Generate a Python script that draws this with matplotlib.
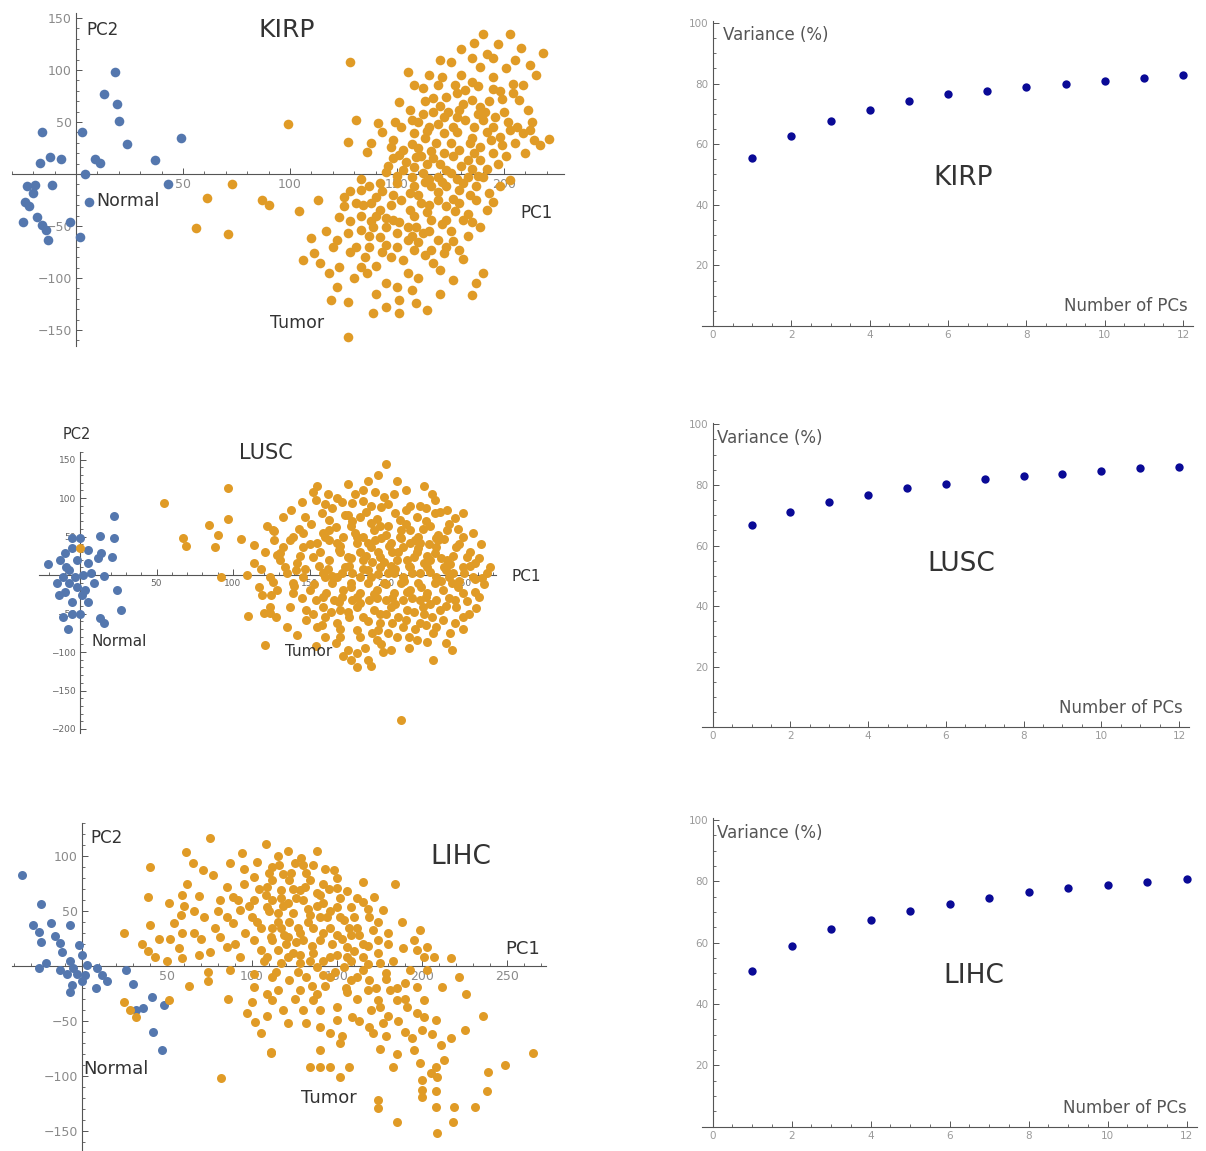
import matplotlib
matplotlib.use("Agg")
import matplotlib.pyplot as plt
from matplotlib.ticker import MultipleLocator, FixedLocator

W, H = 1206, 1151

# ---------------- DATA ----------------
kirp_normal_pc1 = [-16, -17, -12, -7, -11, -23, -19, -20, -24, -22, -25, -18, -16, -14, -13, -3, 2, 3, 4, 6, 9, 11, 13, 18, 19, 20, 24, 37, 43, 49]
kirp_normal_pc2 = [40, 11, 16, 14, -11, -12, -11, -18, -27, -31, -46, -41, -49, -54, -63, -46, -61, 40, 0, -27, 14, 11, 77, 98, 67, 51, 29, 13, -10, 35]

kirp_tumor = [
    (99, 48), (73, -10), (61, -23), (56, -52), (71, -58), (87, -25), (90, -30),
    (128, 108), (131, 52), (141, 49), (127, 31), (136, 21), (190, 135), (203, 135), (186, 126), (208, 121), (218, 116),
    (155, 98), (158, 86), (162, 83), (167, 73), (169, 86), (173, 74), (177, 86), (151, 69), (167, 60), (189, 103),
    (195, 93), (201, 102), (204, 87), (209, 86), (207, 71), (211, 62), (182, 81), (185, 71), (189, 64), (179, 62),
    (182, 52), (190, 52), (195, 45), (198, 36), (203, 42), (209, 39), (221, 34), (214, 33), (176, 45), (172, 39),
    (164, 41), (158, 39), (148, 33), (147, 26), (153, 23), (157, 29), (161, 17), (168, 30), (175, 30), (179, 23),
    (184, 30), (189, 26), (194, 33), (195, 20), (201, 17), (189, 13), (183, 13), (176, 17), (170, 10), (164, 10),
    (158, 7), (153, 4), (162, 1), (169, -3), (175, 1), (183, -3), (190, -3), (203, -6), (187, -12), (179, -15),
    (173, -12), (166, -12), (158, -12), (150, -9), (142, -9), (137, -12), (133, -15), (140, -22), (131, -28),
    (125, -22), (125, -31), (113, -25), (104, -36), (123, -41), (133, -40), (142, -35), (148, -44), (156, -35),
    (161, -28), (169, -25), (173, -31), (179, -28), (183, -38), (187, -25), (195, -27), (189, -51), (181, -44),
    (173, -44), (166, -44), (159, -51), (155, -51), (145, -51), (139, -51), (133, -54), (127, -57), (122, -63),
    (142, -61), (150, -57), (155, -63), (162, -57), (169, -63), (173, -70), (179, -73), (166, -73), (158, -73),
    (147, -80), (153, -83), (167, -86), (172, -76), (137, -70), (131, -70), (120, -70), (111, -76), (114, -86),
    (106, -83), (123, -89), (133, -89), (136, -95), (145, -105), (150, -109), (151, -121), (159, -124), (164, -131),
    (151, -134), (139, -134), (127, -123), (122, -109), (119, -121), (127, -157), (190, -95), (187, -105),
    (185, -116), (176, -102),
    (160, 50), (165, 45), (172, 55), (178, 40), (185, 35), (192, 40), (199, 28), (205, 30), (210, 20), (186, 20),
    (180, 8), (172, 20), (166, 22), (160, 25), (154, 12), (148, 15), (145, 2), (150, -2), (157, -3), (165, -5),
    (171, -8), (178, -5), (185, 5), (192, 5), (197, 10), (160, -20), (165, -30), (152, -25), (147, -30), (140, -40),
    (134, -30), (128, -45), (137, -60), (145, -68), (160, -65), (165, -55), (175, -55), (183, -60), (178, 55),
    (188, 58), (193, 70), (198, 80), (180, 95), (165, 95), (175, 108), (192, 115), (200, 60), (213, 50), (170, 65),
    (162, 58),
    (152, 45), (157, 52), (163, 35), (169, 48), (174, 60), (181, 67), (186, 45), (191, 60), (196, 55), (202, 50),
    (206, 45), (212, 42), (217, 28), (199, 72), (204, 78), (185, 88), (178, 78), (171, 93), (163, 70), (156, 62),
    (149, 50), (143, 40), (138, 30), (146, 8), (151, 18), (159, 16), (167, 15), (173, 4), (181, -9), (188, -2),
    (193, -18), (198, -12), (184, -20), (176, -24), (169, -17), (163, -8), (156, -18), (148, -20), (143, -16),
    (138, -28), (145, -42), (151, -46), (158, -40), (164, -37), (171, -48), (177, -36), (185, -46), (192, -35),
    (176, -64), (163, -78), (157, -60), (150, -70), (143, -75), (135, -80), (128, -75), (140, -88), (155, -95),
    (160, -100), (170, -92), (181, -82), (130, -100), (140, -115), (145, -128), (157, -112), (170, -115), (118, -95),
    (110, -62), (117, -55), (128, -16), (133, -5), (138, -45), (195, 112), (185, 112), (170, 110), (215, 95),
    (212, 105), (197, 125), (205, 110), (180, 120), (188, 85), (195, 82),
]
kirp_tumor_pc1 = [p[0] for p in kirp_tumor]
kirp_tumor_pc2 = [p[1] for p in kirp_tumor]

lusc_normal_pc1 = [-21, 22, 13, 22, 21, 14, 12, 16, 24, 27, 13, 16, -8, -11, 0, -5, 1, -14, -15, -11, -7, -13, -10, -5, 0, -5, 5, 5, 7, 9, 3, -2, -7, -9, -2, 2, -3, -10, 5, -5]
lusc_normal_pc2 = [14, 77, 51, 48, 23, 28, 22, -1, -19, -45, -56, -62, -70, -55, -50, -35, -26, -26, -10, -2, 6, 19, 28, 35, 48, 48, 32, 16, 3, -10, -19, -15, -10, 11, 19, 0, -2, -22, -35, -50]

lusc_tumor = [
    (0, 35), (55, 93), (97, 113), (97, 73), (84, 65), (90, 52), (105, 47), (67, 48), (69, 38), (88, 36), (114, 39),
    (114, 15), (109, 0), (92, -2), (122, 63), (127, 57), (119, -26), (125, -26), (120, -49), (124, -49), (110, -53),
    (121, -91), (129, 26), (126, -9),
    (200, 144), (207, 122), (188, 122), (185, 110), (152, 108), (145, 95), (154, 97), (165, 87), (171, 95), (178, 93),
    (199, 101), (197, 88), (232, 97), (226, 87), (235, 82), (245, 74), (147, 75), (163, 71), (183, 75), (209, 71),
    (220, 75), (126, 58), (139, 49), (159, 55), (177, 63), (192, 58), (201, 63), (216, 58), (229, 63), (240, 58),
    (250, 49), (133, 36), (146, 36), (155, 42), (168, 42), (181, 42), (190, 36), (203, 42), (211, 36), (222, 42),
    (233, 36), (246, 36), (253, 23), (261, 22), (268, 10), (131, 19), (142, 16), (152, 23), (163, 19), (175, 23),
    (185, 19), (196, 23), (207, 19), (218, 23), (229, 19), (240, 19), (124, -3), (135, 3), (146, -3), (159, 3),
    (168, -3), (178, 3), (190, -3), (201, 3), (211, -3), (222, 3), (233, -3), (244, 3), (257, -3), (263, -4),
    (129, -19), (139, -24), (150, -19), (161, -24), (172, -19), (183, -24), (194, -19), (205, -24), (216, -19),
    (227, -24), (237, -19), (250, -24), (258, -22), (259, -43), (137, -42), (148, -45), (159, -42), (170, -45),
    (181, -42), (192, -45), (203, -42), (214, -45), (224, -42), (235, -45), (246, -42), (148, -58), (155, -67),
    (168, -62), (181, -71), (196, -62), (201, -75), (211, -67), (222, -62), (233, -67), (250, -70), (242, -75),
    (194, -84), (203, -97), (220, -84), (227, -87), (243, -97), (231, -110), (175, -97), (181, -101), (177, -110),
    (188, -110), (181, -119), (210, -188), (146, 55), (131, 29), (124, -42),
    (157, 30), (170, 30), (183, 30), (195, 30), (208, 30), (220, 30), (232, 28), (162, 8), (173, 10), (185, 8),
    (196, 10), (206, 8), (216, 10), (227, 10), (238, 10), (250, 10), (165, -10), (177, -10), (188, -10), (199, -10),
    (210, -10), (221, -10), (232, -10), (243, -10), (154, -32), (166, -32), (178, -32), (189, -32), (200, -32),
    (211, -32), (222, -32), (233, -32), (245, -32), (160, 50), (172, 50), (185, 50), (197, 48), (209, 50),
    (221, 50), (233, 48), (190, 68), (213, 85), (175, 78), (160, -55), (185, -55), (208, -55), (230, -55),
    (141, 6), (139, -10), (255, 12), (248, -8), (222, 90), (190, 90), (215, -80), (170, -80),
    (143, 60), (151, 66), (158, 80), (167, 62), (173, 78), (180, 55), (187, 82), (194, 73), (200, 52), (206, 80),
    (213, 66), (219, 45), (226, 70), (234, 52), (241, 66), (248, 40), (255, 30), (137, 45), (144, 25), (150, 40),
    (156, 12), (163, 45), (169, 33), (176, 12), (181, 50), (187, 25), (193, 45), (199, 17), (204, 30), (210, 48),
    (215, 12), (221, 35), (227, 25), (234, 45), (239, 6), (244, 25), (251, 3), (258, 15), (264, -12), (266, 2),
    (134, 10), (140, -14), (147, 8), (153, -12), (159, -28), (165, -1), (171, -28), (177, -15), (183, -36), (188, 6),
    (194, -30), (200, -12), (206, -38), (212, -8), (217, -30), (223, -15), (229, -38), (236, -8), (241, -30),
    (247, -16), (253, -34), (261, -28), (254, -50), (145, -30), (152, -50), (158, -65), (164, -48), (170, -70),
    (176, -55), (183, -80), (188, -60), (195, -72), (200, -50), (207, -80), (213, -58), (219, -70), (225, -50),
    (231, -75), (237, -58), (245, -62), (239, -88), (215, -95), (197, -90), (186, -95), (167, -88), (160, -80),
    (154, -92), (213, 110), (205, 105), (193, 108), (180, 105), (175, 118), (168, 100), (160, 92), (230, 105),
    (240, 85), (250, 80), (257, 55), (262, 40), (138, 85), (133, 75), (127, 45), (121, 30), (118, 8), (117, -15),
    (128, -55), (135, -68), (142, -78), (155, 115), (162, 105), (195, 130), (225, 115), (198, -100), (190, -118),
    (172, -105), (250, -55), (258, -5), (247, 60), (232, 80), (216, 90), (201, 92), (185, 96),
    (163, 58), (178, 70), (196, 64), (210, 58), (224, 60), (238, 47), (170, 38), (188, 42), (202, 38), (216, 42),
    (228, 40), (242, 14), (177, 22), (191, 17), (203, 12), (214, 20), (225, 16), (236, 22), (160, -3), (171, 3),
    (183, -2), (195, 1), (205, 2), (217, 2), (229, 4), (241, -2), (169, -35), (181, -28), (192, -25), (204, -30),
    (214, -22), (226, -28), (239, -40), (175, -48), (196, -50), (218, -48), (191, -75), (226, -65), (204, -62),
]
lusc_tumor_pc1 = [p[0] for p in lusc_tumor]
lusc_tumor_pc2 = [p[1] for p in lusc_tumor]

lihc_normal_pc1 = [-35, -24, -29, -18, -7, -25, -24, -16, -13, -12, -2, 0, -7, -21, -25, -13, -5, 3, 9, 12, 15, 8, 0, -6, -9, -7, -3, 2, 26, 30, 41, 36, 32, 48, 42, 47]
lihc_normal_pc2 = [83, 56, 37, 39, 37, 31, 22, 27, 21, 13, 19, 10, 5, 3, -2, -4, -2, 1, -2, -8, -14, -20, -14, -17, -7, -24, -7, -8, -4, -16, -28, -38, -40, -35, -60, -76]

lihc_tumor = [
    (75, 116), (108, 111), (61, 104), (87, 94), (40, 90), (65, 94), (94, 103), (71, 87), (77, 83), (62, 75), (59, 65),
    (69, 64), (39, 63), (51, 57), (58, 46), (72, 45), (40, 37), (25, 30), (54, 39), (59, 30), (39, 14), (43, 8),
    (50, 5), (57, 16), (59, 7), (69, 10), (75, 13), (74, -5), (74, -14), (63, -18), (81, 26), (89, 39), (85, 17),
    (93, 8), (86, -30), (25, -33), (28, -40), (32, -46), (51, -31), (97, -43), (100, -33), (102, -51), (105, -61),
    (111, -79), (82, -102), (101, -19), (101, -7), (109, -25), (101, 24), (105, 35), (93, 51), (101, 60), (109, 72),
    (112, 90), (101, 81), (89, 63), (81, 60), (95, 75), (109, 54), (112, 24), (87, -4), (109, 8),
    (121, 105), (138, 105), (125, 94), (130, 92), (148, 87), (118, 84), (112, 78), (122, 78), (134, 78), (142, 75),
    (165, 76), (184, 75), (150, 71), (117, 69), (128, 69), (138, 66), (172, 63), (112, 60), (121, 57), (130, 60),
    (142, 57), (150, 54), (158, 54), (169, 45), (177, 51), (115, 48), (124, 48), (134, 46), (144, 45), (154, 42),
    (117, 35), (127, 35), (136, 35), (146, 35), (162, 35), (171, 33), (111, 26), (121, 26), (130, 24), (140, 24),
    (156, 17), (174, 24), (199, 33), (195, 24), (189, 16), (197, 15), (203, 17), (201, 8), (207, 8), (217, 7),
    (115, 15), (124, 12), (136, 12), (146, 8), (174, 12), (183, 5), (117, 3), (128, 3), (138, -1), (154, -1),
    (165, -4), (175, 3), (179, -6), (193, -4), (203, -4), (112, -10), (122, -13), (132, -10), (146, -10),
    (158, -13), (169, -13), (222, -10), (212, -19), (115, -22), (128, -22), (138, -25), (156, -24), (168, -22),
    (181, -22), (197, -19), (226, -25), (112, -31), (136, -31), (150, -37), (174, -31), (185, -31), (191, -37),
    (201, -31), (140, -40), (159, -46), (175, -37), (197, -43), (121, -52), (132, -52), (140, -55), (150, -49),
    (169, -55), (177, -52), (201, -46), (208, -49), (236, -45), (146, -61), (153, -64), (171, -61), (179, -64),
    (200, -58), (225, -58), (217, -65), (111, -78), (140, -76), (152, -70), (194, -65), (211, -72), (195, -76),
    (265, -79), (134, -92), (140, -92), (146, -92), (157, -92), (152, -101), (183, -92), (199, -88), (208, -92),
    (205, -97), (200, -104), (200, -113), (200, -119), (208, -114), (209, -101), (239, -96), (249, -90),
    (238, -114), (231, -128), (219, -128), (208, -128), (218, -142), (209, -152), (185, -142), (174, -129),
    (174, -122),
    (100, 45), (96, 30), (105, 15), (118, 55), (126, 62), (133, 52), (140, 65), (146, 50), (152, 62), (160, 45),
    (165, 58), (108, 65), (115, 40), (122, 40), (128, 30), (135, 18), (142, 30), (150, 28), (158, 28), (165, 20),
    (120, 20), (128, 10), (142, 5), (150, 10), (158, 5), (165, 8), (188, 40), (180, 20), (155, -20), (162, -30),
    (130, -40), (186, -50), (190, -15), (95, 88), (103, 95), (132, 85), (115, 100), (85, 72), (80, 50), (66, 30),
    (98, 55), (104, 70), (110, 85), (116, 92), (123, 85), (129, 98), (136, 92), (143, 88), (150, 80), (156, 68),
    (162, 62), (168, 52), (174, 40), (180, 30), (103, 40), (110, 50), (117, 62), (124, 70), (131, 72), (138, 55),
    (145, 70), (152, 45), (157, 35), (163, 28), (168, 18), (112, 35), (119, 28), (126, 22), (133, 40), (140, 45),
    (147, 20), (153, 25), (160, 14), (107, 5), (114, -5), (121, 8), (127, -5), (134, 5), (142, -8), (149, -5),
    (156, 8), (162, -10), (168, 2), (173, -20), (179, -12), (185, -20), (190, -30), (180, -45), (170, -40),
    (163, -50), (143, -18), (135, -18), (125, -30), (118, -40), (109, -45), (90, 20), (92, 60), (85, 45), (78, 35),
    (70, 25), (66, 50), (60, 55), (52, 25), (45, 25), (35, 20), (190, -60), (206, -62), (213, -85), (185, -80),
    (175, -75),
]
lihc_tumor_pc1 = [p[0] for p in lihc_tumor]
lihc_tumor_pc2 = [p[1] for p in lihc_tumor]

n_pcs = [1, 2, 3, 4, 5, 6, 7, 8, 9, 10, 11, 12]
kirp_variance = [55.4, 62.8, 67.7, 71.4, 74.2, 76.5, 77.5, 78.9, 80.0, 80.8, 81.7, 82.7]
lusc_variance = [66.9, 71.1, 74.4, 76.7, 79.1, 80.4, 81.8, 82.8, 83.7, 84.7, 85.6, 86.0]
lihc_variance = [50.9, 59.0, 64.6, 67.5, 70.3, 72.5, 74.5, 76.4, 77.8, 78.8, 79.8, 80.7]

# ---------------- STYLE ----------------
BLUE = "#5477ae"
ORANGE = "#e09b26"
DARKBLUE = "#0a0a96"
AXCOL = "#555555"
TICKCOL = "#8a8a8a"
TXT = "#333333"

plt.rcParams['font.family'] = ['DejaVu Sans']
fig = plt.figure(figsize=(W / 100, H / 100), dpi=100)
fig.patch.set_facecolor("white")


def place(ax, x0px, sx, y0px, sy, xlim, ylim):
    left = x0px + xlim[0] * sx
    right = x0px + xlim[1] * sx
    top = y0px - ylim[1] * sy
    bottom = y0px - ylim[0] * sy
    ax.set_position([left / W, 1 - bottom / H, (right - left) / W, (bottom - top) / H])
    ax.set_xlim(*xlim)
    ax.set_ylim(*ylim)


def style_axes(ax, xmaj, ymaj, xmin, ymin, lsize, lcol=TICKCOL):
    for s in ("top", "right"):
        ax.spines[s].set_visible(False)
    for s in ("left", "bottom"):
        ax.spines[s].set_position(("data", 0))
        ax.spines[s].set_color(AXCOL)
        ax.spines[s].set_linewidth(0.8)
    ax.xaxis.set_major_locator(FixedLocator(xmaj))
    ax.yaxis.set_major_locator(FixedLocator(ymaj))
    ax.xaxis.set_minor_locator(MultipleLocator(xmin))
    ax.yaxis.set_minor_locator(MultipleLocator(ymin))
    ax.tick_params(which="major", direction="in", length=4, width=0.7, color=AXCOL,
                   labelsize=lsize, labelcolor=lcol, pad=3)
    ax.tick_params(which="minor", direction="in", length=2.2, width=0.6, color=AXCOL)
    ax.set_facecolor("none")


def scatter_panel(x0px, sx, y0px, sy, xlim, ylim, npc1, npc2, tpc1, tpc2, size,
                  xmaj, ymaj, lsize, texts, lcol=TICKCOL):
    ax = fig.add_axes([0, 0, 1, 1])
    place(ax, x0px, sx, y0px, sy, xlim, ylim)
    ax.scatter(npc1, npc2, s=size, color=BLUE, linewidths=0, zorder=3, clip_on=False)
    ax.scatter(tpc1, tpc2, s=size, color=ORANGE, linewidths=0, zorder=4, clip_on=False)
    style_axes(ax, xmaj, ymaj, 10, 10, lsize, lcol)
    for (tx, ty, s, fs, ha) in texts:
        ax.text(tx, ty, s, fontsize=fs, color=TXT, ha=ha, va="center", zorder=5)
    return ax


def variance_panel(x0px, sx, y0px, sy, vals, name, texts_pos):
    ax = fig.add_axes([0, 0, 1, 1])
    place(ax, x0px, sx, y0px, sy, (-0.28, 12.25), (0, 100.5))
    ax.scatter(n_pcs, vals, s=36, color=DARKBLUE, linewidths=0, zorder=3)
    style_axes(ax, [0, 2, 4, 6, 8, 10, 12], [20, 40, 60, 80, 100], 0.5, 5, 7.5, "#9a9a9a")
    vx, vy, nx, ny, cx, cy = texts_pos
    ax.text(vx, vy, "Variance (%)", fontsize=12, color="#555555", ha="left", va="center")
    ax.text(nx, ny, "Number of PCs", fontsize=12, color="#555555", ha="right", va="center")
    ax.text(cx, cy, name, fontsize=19, color=TXT, ha="center", va="center")
    return ax


# KIRP PCA
scatter_panel(76, 2.14, 174, 1.04, (-30, 228), (-165, 155),
              kirp_normal_pc1, kirp_normal_pc2, kirp_tumor_pc1, kirp_tumor_pc2, 48,
              [50, 100, 150, 200], [-150, -100, -50, 50, 100, 150], 9,
              [(4.7, 138.5, "PC2", 12, "left"), (98.6, 138.5, "KIRP", 18, "center"),
               (9.3, -26, "Normal", 12.5, "left"), (207.5, -37.5, "PC1", 12, "left"),
               (90.6, -143, "Tumor", 12.5, "left")])

# LUSC PCA
scatter_panel(80, 1.53, 575, 0.77, (-27, 272), (-205, 160),
              lusc_normal_pc1, lusc_normal_pc2, lusc_tumor_pc1, lusc_tumor_pc2, 42,
              [50, 100, 150, 200, 250], [-200, -150, -100, -50, 50, 100, 150], 6.5,
              [(-2, 182, "PC2", 10.5, "center"), (121.6, 158, "LUSC", 15, "center"),
               (7.8, -86, "Normal", 11, "left"), (282, -1.3, "PC1", 11, "left"),
               (134, -99, "Tumor", 11, "left")], lcol="#666666")

# LIHC PCA
scatter_panel(82, 1.7, 966, 1.1, (-41, 273), (-168, 130),
              lihc_normal_pc1, lihc_normal_pc2, lihc_tumor_pc1, lihc_tumor_pc2, 42,
              [50, 100, 150, 200, 250], [-150, -100, -50, 50, 100], 9,
              [(4.7, 116, "PC2", 12, "left"), (223, 99, "LIHC", 19, "center"),
               (0.6, -93.6, "Normal", 13, "left"), (249, 15.5, "PC1", 13, "left"),
               (129, -120, "Tumor", 13, "left")])

# Variance panels
variance_panel(713, 39.17, 326, 3.03, kirp_variance, "KIRP",
               (0.26, 96, 12.13, 6.6, 6.38, 49))
variance_panel(712.7, 38.86, 727.3, 3.03, lusc_variance, "LUSC",
               (0.1, 95.6, 12.1, 6.3, 6.39, 53.9))
variance_panel(712.7, 39.5, 1126.7, 3.067, lihc_variance, "LIHC",
               (0.1, 95.9, 12.0, 6.0, 6.6, 49))

fig.savefig("out.png", dpi=100, facecolor="white")
